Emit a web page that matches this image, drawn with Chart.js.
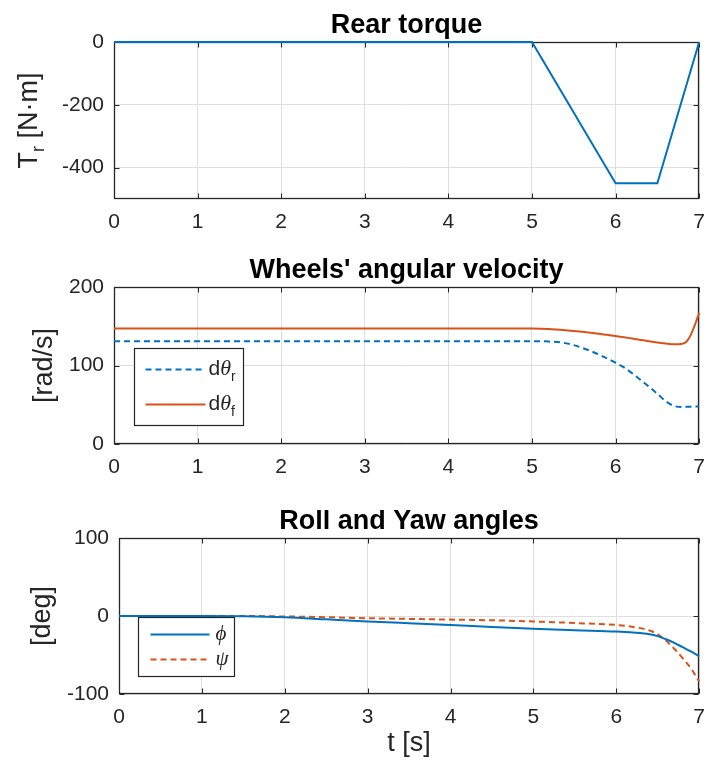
<!DOCTYPE html>
<html>
<head>
<meta charset="utf-8">
<script src="https://cdn.jsdelivr.net/npm/chart.js@4.4.1/dist/chart.umd.min.js"></script>
<style>
  html, body { margin: 0; padding: 0; background: #fff; }
  #fig { position: relative; width: 716px; height: 769px; overflow: hidden; background: #fff; }
  #fig canvas { position: absolute; left: 0; }
</style>
</head>
<body>
<div id="fig">
  <canvas id="torque" width="716" height="250" style="top:0px"></canvas>
  <canvas id="wheels" width="716" height="260" style="top:250px"></canvas>
  <canvas id="angles" width="716" height="259" style="top:510px"></canvas>
</div>
<script>
// ---- data ----
const timeTicks = [0, 1, 2, 3, 4, 5, 6, 7];

const torqueTime = [0, 5, 6, 6.5, 7];
const rearTorque = [0, 0, -450, -450, 0];
const torqueTicks = [-400, -200, 0];

const wheelTime = [0, 1, 2, 3, 4, 5, 5.2, 5.4, 5.6, 5.8, 6.0, 6.1, 6.2, 6.3, 6.4, 6.5, 6.6, 6.7, 6.8, 6.85, 6.9, 6.95, 7.0];
const rearWheelSpeed = [131, 131, 131, 131, 131, 131, 130.5, 128.5, 122.5, 114, 103.5, 97.5, 90, 81.5, 73, 64, 54.5, 48.5, 47, 47.3, 47.6, 47.8, 48];
const frontWheelSpeed = [147, 147, 147, 147, 147, 147, 146.5, 145, 143, 140.5, 137.5, 136, 134.3, 132.6, 130.9, 129.4, 128, 127, 127.7, 130.5, 139, 152, 167];
const wheelTicks = [0, 100, 200];

const angleTime = [0, 1, 1.5, 2, 2.5, 3, 3.5, 4, 4.5, 5, 5.5, 6, 6.2, 6.4, 6.5, 6.6, 6.7, 6.8, 6.9, 7.0];
const rollAngle = [0, 0, -0.4, -1.7, -4.3, -7, -9.3, -11.5, -14, -16.3, -18.3, -20, -21.2, -23.3, -25.8, -29.8, -34.5, -40, -45.5, -51.5];
const yawAngle = [0, 0, 0, -0.6, -1.5, -2.8, -3.7, -4.6, -5.5, -7, -9, -11.5, -14, -18.5, -23.5, -31.5, -42, -54, -67, -84];
const angleTicks = [-100, 0, 100];

// ---- styling ----
const BLUE = '#0072BD';
const ORANGE = '#D95319';
const INK = '#262626';
const GRID = '#dfdfdf';
const SANS = '"Liberation Sans", Arial, Helvetica, sans-serif';
const SERIF = '"Liberation Serif", "Times New Roman", serif';

function pts(xs, ys) { return xs.map((x, i) => ({ x: x, y: ys[i] })); }

// draws a run of text pieces (for subscripts / mixed fonts)
function drawRich(ctx, parts, x, y, align) {
  let w = 0;
  parts.forEach(p => { ctx.font = p.font; w += ctx.measureText(p.t).width; });
  let cx = align === 'left' ? x : x - w / 2;
  parts.forEach(p => {
    ctx.font = p.font;
    ctx.fillText(p.t, cx, y + (p.dy || 0));
    cx += ctx.measureText(p.t).width;
  });
}

// box, inward tick marks, titles, labels and legend in the MATLAB look
const axesDecor = {
  id: 'axesDecor',
  beforeDatasetsDraw(chart) {
    const { ctx, chartArea: a, scales: { x, y } } = chart;
    const L = Math.round(a.left) + 0.5, R = Math.round(a.right) - 0.5;
    const T = Math.round(a.top) + 0.5, B = Math.round(a.bottom) - 0.5;
    ctx.save();
    ctx.strokeStyle = INK;
    ctx.lineWidth = 1;
    ctx.beginPath();
    x.ticks.forEach(t => {
      const p = Math.round(x.getPixelForValue(t.value)) + 0.5;
      ctx.moveTo(p, T); ctx.lineTo(p, T + 5);
      ctx.moveTo(p, B); ctx.lineTo(p, B - 5);
    });
    y.ticks.forEach(t => {
      const p = Math.round(y.getPixelForValue(t.value)) + 0.5;
      ctx.moveTo(L, p); ctx.lineTo(L + 5, p);
      ctx.moveTo(R, p); ctx.lineTo(R - 5, p);
    });
    ctx.stroke();
    ctx.lineWidth = 1.3;
    ctx.strokeRect(L, T, R - L, B - T);
    ctx.restore();
  },
  afterDraw(chart, args, o) {
    const { ctx, chartArea: a } = chart;
    const cx = (a.left + a.right) / 2;
    ctx.save();
    // title
    ctx.fillStyle = '#000';
    ctx.textAlign = 'left';
    ctx.textBaseline = 'alphabetic';
    ctx.font = 'bold 27px ' + SANS;
    const tw = ctx.measureText(o.title).width;
    ctx.fillText(o.title, cx - tw / 2, a.top - 9);

    // y label (rotated)
    ctx.fillStyle = INK;
    ctx.textBaseline = 'middle';
    ctx.save();
    ctx.translate(o.yLabelX, (a.top + a.bottom) / 2);
    ctx.rotate(-Math.PI / 2);
    drawRich(ctx, o.yLabel, 0, 0, 'center');
    ctx.restore();

    // x label
    if (o.xLabel) {
      drawRich(ctx, o.xLabel, cx, o.xLabelY, 'center');
    }

    // legend
    if (o.legend) {
      const g = o.legend;
      const bx = Math.round(a.left + g.x) + 0.5, by = Math.round(a.top + g.y) + 0.5;
      ctx.fillStyle = '#fff';
      ctx.fillRect(bx, by, g.w, g.h);
      ctx.strokeStyle = INK;
      ctx.lineWidth = 1.2;
      ctx.strokeRect(bx, by, g.w, g.h);
      g.rows.forEach(r => {
        const ds = chart.data.datasets[r.dataset];
        const ry = by + r.dy;
        ctx.save();
        ctx.strokeStyle = ds.borderColor;
        ctx.lineWidth = ds.borderWidth;
        ctx.setLineDash(ds.borderDash || []);
        ctx.beginPath();
        ctx.moveTo(bx + g.lineFrom, ry);
        ctx.lineTo(bx + g.lineTo, ry);
        ctx.stroke();
        ctx.restore();
        ctx.fillStyle = INK;
        ctx.textBaseline = 'middle';
        drawRich(ctx, r.label, bx + g.textX, ry, 'left');
      });
    }
    ctx.restore();
  }
};

function makeChart(id, geom, datasets, yMin, yMax, yTicks, decor) {
  const canvas = document.getElementById(id);
  const W = canvas.width, H = canvas.height;
  const pad = { left: 0, right: W - geom.right, top: geom.top, bottom: 0 };
  const chart = new Chart(canvas, {
    type: 'line',
    data: { datasets: datasets },
    plugins: [axesDecor],
    options: {
      responsive: false,
      animation: false,
      events: [],
      layout: { autoPadding: false, padding: Object.assign({}, pad) },
      elements: { point: { radius: 0 } },
      scales: {
        x: {
          type: 'linear', min: 0, max: 7,
          afterBuildTicks: s => { s.ticks = timeTicks.map(v => ({ value: v })); },
          afterFit: s => { s.height = H - geom.bottom; },
          grid: { color: GRID, lineWidth: 1, drawTicks: false },
          border: { display: false },
          ticks: { color: INK, font: { family: SANS, size: 21 }, padding: 11, maxRotation: 0, autoSkip: false }
        },
        y: {
          type: 'linear', min: yMin, max: yMax,
          afterBuildTicks: s => { s.ticks = yTicks.map(v => ({ value: v })); },
          afterFit: s => { s.width = geom.left; },
          grid: { color: GRID, lineWidth: 1, drawTicks: false },
          border: { display: false },
          ticks: { color: INK, font: { family: SANS, size: 21 }, padding: 10 }
        }
      },
      plugins: {
        legend: { display: false },
        tooltip: { enabled: false },
        title: { display: false },
        axesDecor: decor
      }
    }
  });
  // keep the plot frame exactly where the figure layout wants it
  for (let i = 0; i < 4; i++) {
    const a = chart.chartArea;
    const dl = geom.left - a.left, dr = a.right - geom.right;
    const dt = geom.top - a.top, db = a.bottom - geom.bottom;
    if (Math.max(Math.abs(dl), Math.abs(dr), Math.abs(dt), Math.abs(db)) < 0.3) break;
    pad.left += dl; pad.right += dr; pad.top += dt; pad.bottom += db;
    chart.options.layout.padding = Object.assign({}, pad);
    chart.update();
  }
  return chart;
}

const F27 = '27px ' + SANS;
const F18 = '18px ' + SANS;

// Rear torque
makeChart('torque', { left: 114, right: 706, top: 42, bottom: 199 }, [
  { data: pts(torqueTime, rearTorque), borderColor: BLUE, borderWidth: 2, tension: 0, clip: 4 }
], -500, 0, torqueTicks, {
  title: 'Rear torque',
  yLabelX: 30,
  yLabel: [
    { t: 'T', font: F27 },
    { t: 'r', font: F18, dy: 9 },
    { t: ' [N\u00B7m]', font: F27 }
  ]
});

// Wheels' angular velocity
makeChart('wheels', { left: 114, right: 706, top: 37, bottom: 194 }, [
  { data: pts(wheelTime, rearWheelSpeed), borderColor: BLUE, borderWidth: 2, borderDash: [6, 4], cubicInterpolationMode: 'monotone', clip: 4 },
  { data: pts(wheelTime, frontWheelSpeed), borderColor: ORANGE, borderWidth: 2, cubicInterpolationMode: 'monotone', clip: 4 }
], 0, 200, wheelTicks, {
  title: "Wheels' angular velocity",
  yLabelX: 45,
  yLabel: [{ t: '[rad/s]', font: F27 }],
  legend: {
    x: 20, y: 61, w: 109, h: 77, lineFrom: 11, lineTo: 71, textX: 74,
    rows: [
      { dataset: 0, dy: 21, label: [
        { t: 'd', font: '21px ' + SANS },
        { t: '\u03B8', font: 'italic 22px ' + SERIF },
        { t: 'r', font: '14px ' + SANS, dy: 8 }
      ] },
      { dataset: 1, dy: 56, label: [
        { t: 'd', font: '21px ' + SANS },
        { t: '\u03B8', font: 'italic 22px ' + SERIF },
        { t: 'f', font: '14px ' + SANS, dy: 8 }
      ] }
    ]
  }
});

// Roll and Yaw angles
makeChart('angles', { left: 119, right: 711, top: 28, bottom: 184 }, [
  { data: pts(angleTime, rollAngle), borderColor: BLUE, borderWidth: 2, cubicInterpolationMode: 'monotone', clip: 4 },
  { data: pts(angleTime, yawAngle), borderColor: ORANGE, borderWidth: 2, borderDash: [6, 4], cubicInterpolationMode: 'monotone', clip: 4 }
], -100, 100, angleTicks, {
  title: 'Roll and Yaw angles',
  yLabelX: 43,
  yLabel: [{ t: '[deg]', font: F27 }],
  xLabel: [{ t: 't [s]', font: F27 }],
  xLabelY: 234,
  legend: {
    x: 19, y: 79, w: 96, h: 59, lineFrom: 12, lineTo: 71, textX: 77,
    rows: [
      { dataset: 0, dy: 17, label: [{ t: '\u03D5', font: 'italic 21px ' + SERIF }] },
      { dataset: 1, dy: 42, label: [{ t: '\u03C8', font: 'italic 21px ' + SERIF }] }
    ]
  }
});
</script>
</body>
</html>
